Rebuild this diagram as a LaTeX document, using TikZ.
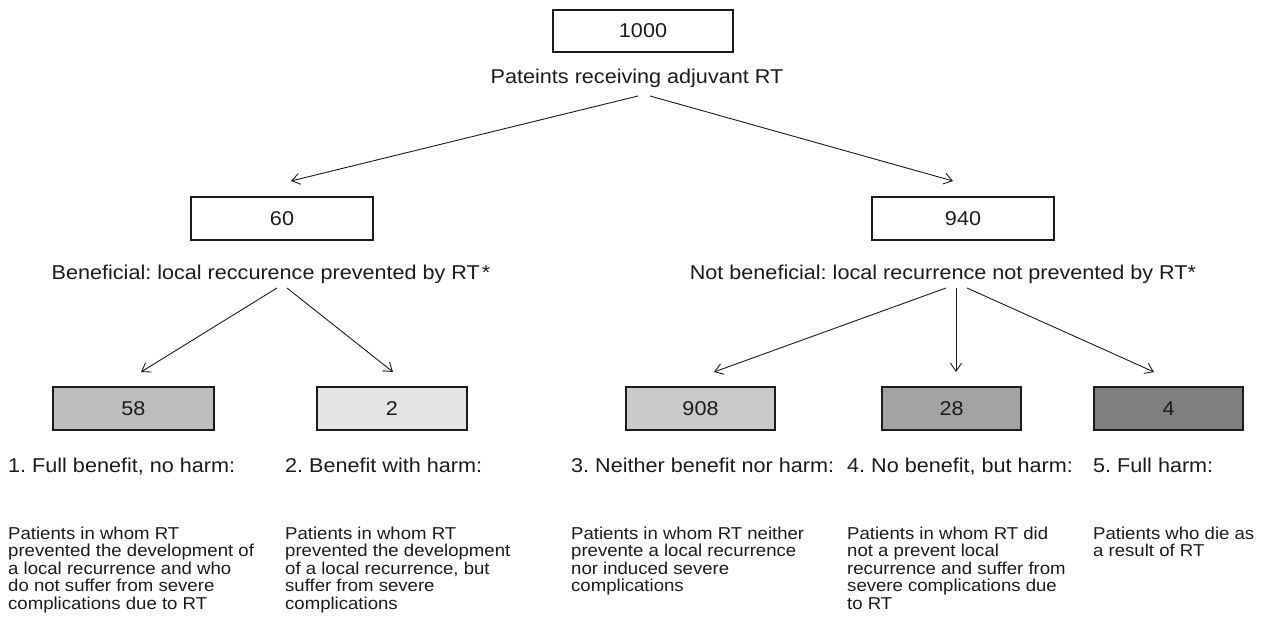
\documentclass[tikz,border=0pt]{standalone}
\usepackage{fontspec}
\setmainfont{Liberation Sans}[FakeStretch=1.08]
\usetikzlibrary{arrows.meta}
\newcommand\bigfnt{\frenchspacing\fontsize{20}{22}\selectfont}
\newcommand\descfnt{\frenchspacing\fontsize{17.2}{17.5}\selectfont}
\definecolor{boxA}{HTML}{BDBEC0}
\definecolor{boxB}{HTML}{E3E4E5}
\definecolor{boxC}{HTML}{C9CACB}
\definecolor{boxD}{HTML}{A2A3A5}
\definecolor{boxE}{HTML}{7E7F81}
\definecolor{ink}{HTML}{1C1C1C}
\begin{document}
\begin{tikzpicture}[x=1pt,y=-1pt,
  numbox/.style={draw=ink,line width=1.1pt,minimum height=43pt,inner sep=0pt,font=\bigfnt,text=ink},
  lbl/.style={inner sep=0pt,font=\bigfnt,text=ink},
  desc/.style={inner sep=0pt,font=\descfnt,text=ink,align=left,anchor=north west},
  conn/.style={draw=ink,line width=0.9pt,-{Straight Barb[length=8pt,width=11pt]}}]
\useasboundingbox[fill=white] (0,0) rectangle (1273,617);

% boxes
\node[numbox,minimum width=180pt,minimum height=42pt] (top) at (643,31) {1000};
\node[numbox,minimum width=182pt] (n60) at (282,218.5) {60};
\node[numbox,minimum width=182pt] (n940) at (963,218.5) {940};
\node[numbox,minimum width=161pt,fill=boxA] (b58) at (133.5,408.5) {58};
\node[numbox,minimum width=150pt,fill=boxB] (b2) at (392,408.5) {2};
\node[numbox,minimum width=149pt,fill=boxC] (b908) at (700.5,408.5) {908};
\node[numbox,minimum width=139pt,fill=boxD] (b28) at (951.5,408.5) {28};
\node[numbox,minimum width=149pt,fill=boxE] (b4) at (1168.5,408.5) {4};

% labels
\node[lbl,anchor=base] (ltop) at (637,84) {Pateints receiving adjuvant RT};
\node[lbl,anchor=base] (lben) at (271,280) {Beneficial: local reccurence prevented by RT\hspace{2pt}*};
\node[lbl,anchor=base] (lnben) at (943,280) {Not beneficial: local recurrence not prevented by RT*};

% headings
\node[lbl,anchor=base west] (h1) at (8,472) {1. Full benefit, no harm:};
\node[lbl,anchor=base west] (h2) at (285,472) {2. Benefit with harm:};
\node[lbl,anchor=base west] (h3) at (571,472) {3. Neither benefit nor harm:};
\node[lbl,anchor=base west] (h4) at (847,472) {4. No benefit, but harm:};
\node[lbl,anchor=base west] (h5) at (1093,472) {5. Full harm:};

% descriptions
\node[desc] (d1) at (8,526.5) {Patients in whom RT\\prevented the development of\\a local recurrence and who\\do not suffer from severe\\complications due to RT};
\node[desc] (d2) at (285,526.5) {Patients in whom RT\\prevented the development\\of a local recurrence, but\\suffer from severe\\complications};
\node[desc] (d3) at (571,526.5) {Patients in whom RT neither\\prevente a local recurrence\\nor induced severe\\complications};
\node[desc] (d4) at (847,526.5) {Patients in whom RT did\\not a prevent local\\recurrence and suffer from\\severe complications due\\to RT};
\node[desc] (d5) at (1093,526.5) {Patients who die as\\a result of RT};

% connector end points
\coordinate (s1) at (638,96);
\coordinate (s2) at (650,96);
\coordinate (e60) at (291,181);
\coordinate (e940) at (953,181);
\coordinate (s3) at (277,288);
\coordinate (s4) at (287,288);
\coordinate (e58) at (141,372);
\coordinate (e2) at (393,372);
\coordinate (s5) at (946,288);
\coordinate (s6) at (956,288);
\coordinate (s7) at (967,288);
\coordinate (e908) at (714,372);
\coordinate (e28) at (956,372);
\coordinate (e4) at (1154,372);

\draw[conn] (s1) -- (e60);
\draw[conn] (s2) -- (e940);
\draw[conn] (s3) -- (e58);
\draw[conn] (s4) -- (e2);
\draw[conn] (s5) -- (e908);
\draw[conn] (s6) -- (e28);
\draw[conn] (s7) -- (e4);
\end{tikzpicture}
\end{document}
